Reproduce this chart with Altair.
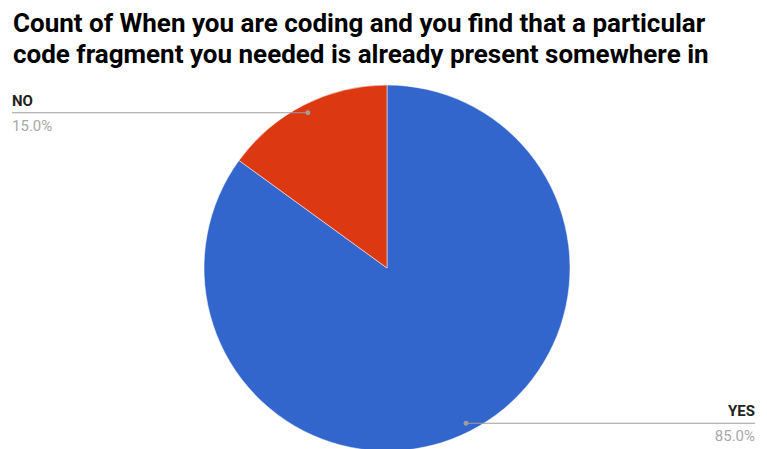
import math
import altair as alt
import pandas as pd

labels = ["YES", "NO"]
values = [85, 15]
colors = ["#3366CC", "#DC3912"]
title_lines = [
    "Count of When you are coding and you find that a particular",
    "code fragment you needed is already present somewhere in",
]

W, TOP = 751, 72
H = 449 - 8 - TOP
CX, CY, R = 379, 188, 183

total = sum(values)
rows = []
start = 0.0
for i, (lab, v) in enumerate(zip(labels, values)):
    frac = v / total
    mid = (start + frac / 2) * 2 * math.pi
    start += frac
    px = CX + 0.952 * R * math.sin(mid)
    py = CY - 0.952 * R * math.cos(mid)
    left = px < CX
    rows.append({
        "label": lab, "value": v, "order": i,
        "pct": f"{frac * 100:.1f}%",
        "px": px, "py": py,
        "ex": 4 if left else W - 4,
        "align": "left" if left else "right",
    })
df = pd.DataFrame(rows)

base = alt.Chart(df)
xs = alt.Scale(domain=[0, W], range=[0, W])
ys = alt.Scale(domain=[0, H], range=[0, H])

pie = base.mark_arc(radius=R, stroke="white", strokeWidth=0.5).encode(
    theta=alt.Theta("value:Q", stack=True),
    order=alt.Order("order:Q"),
    color=alt.Color("label:N", scale=alt.Scale(domain=labels, range=colors), legend=None),
    x=alt.value(CX), y=alt.value(CY),
)

lines = base.mark_rule(color="#9e9e9e", strokeWidth=1.2).encode(
    x=alt.X("px:Q", scale=xs, axis=None),
    x2="ex:Q",
    y=alt.Y("py:Q", scale=ys, axis=None),
)
dots = base.mark_circle(color="#9e9e9e", size=24, opacity=1).encode(
    x=alt.X("px:Q", scale=xs, axis=None),
    y=alt.Y("py:Q", scale=ys, axis=None),
)

def txt(data_filter, align, field, color, weight, dy):
    return base.transform_filter(data_filter).mark_text(
        align=align, baseline="alphabetic", font="Roboto", fontSize=15,
        fontWeight=weight, color=color, dy=dy,
    ).encode(
        x=alt.X("ex:Q", scale=xs, axis=None),
        y=alt.Y("py:Q", scale=ys, axis=None),
        text=f"{field}:N",
    )

left_f = alt.datum.align == "left"
right_f = alt.datum.align == "right"
texts = [
    txt(left_f, "left", "label", "#222222", "bold", -7),
    txt(left_f, "left", "pct", "#a8a8a8", "normal", 18),
    txt(right_f, "right", "label", "#222222", "bold", -7),
    txt(right_f, "right", "pct", "#a8a8a8", "normal", 18),
]

chart = alt.layer(pie, lines, dots, *texts).properties(
    width=W, height=H,
    autosize=alt.AutoSizeParams(type="none"),
    padding={"left": 0, "top": TOP, "right": 0, "bottom": 0},
    title=alt.TitleParams(
        text=title_lines, anchor="start", font="Roboto",
        fontSize=26, fontWeight="bold", color="#000000", lineHeight=31,
        dx=5, offset=12,
    ),
).configure_view(stroke=None)

chart.save("out.html", embed_options={"renderer": "svg", "actions": False})
